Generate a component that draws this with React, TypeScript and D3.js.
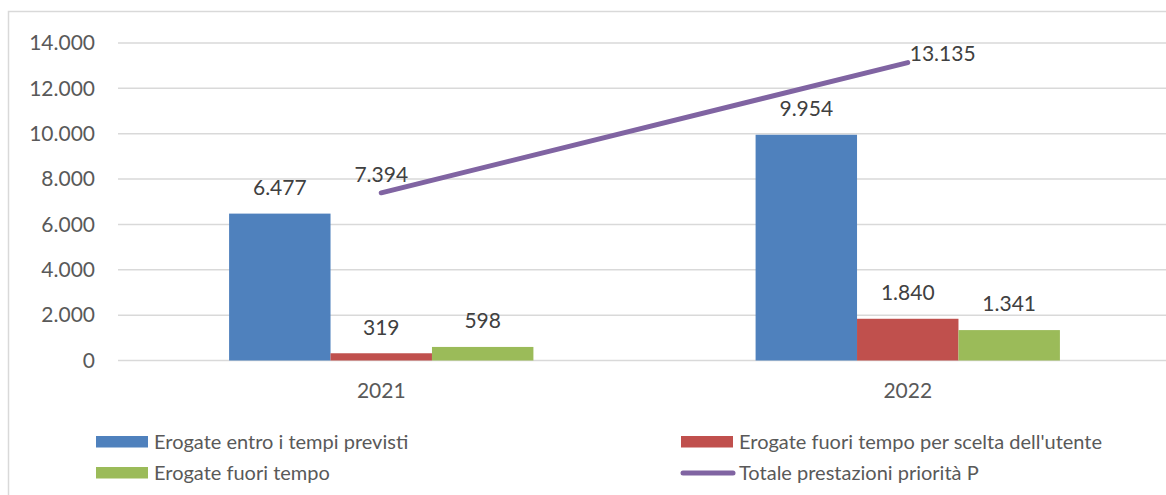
import React from "react";
import * as d3 from "d3";

const categories = ["2021", "2022"];
const seriesNames = [
  "Erogate entro i tempi previsti",
  "Erogate fuori tempo per scelta dell'utente",
  "Erogate fuori tempo",
];
const entroTempi = [6477, 9954];
const fuoriTempoScelta = [319, 1840];
const fuoriTempo = [598, 1341];
const lineName = "Totale prestazioni priorità P";
const totale = [7394, 13135];
const yTicks = [0, 2000, 4000, 6000, 8000, 10000, 12000, 14000];

const colors = ["#4F81BD", "#C0504D", "#9BBB59"];
const lineColor = "#8064A2";
const textColor = "#595959";
const gridColor = "#D9D9D9";
const FONT = "Lato, 'Open Sans', sans-serif";

const W = 1166;
const H = 495;
const plot = { left: 118, right: 1171, top: 43, bottom: 360.5 };

const locale = d3.formatLocale({ decimal: ",", thousands: ".", grouping: [3], currency: ["€", ""] });
const fmt = locale.format(",d");

export default function App() {
  const seriesValues = [entroTempi, fuoriTempoScelta, fuoriTempo];
  const x0 = d3.scaleBand<string>().domain(categories).range([plot.left, plot.right]).paddingInner(0).paddingOuter(0);
  const groupW = x0.bandwidth() * 0.578;
  const x1 = d3
    .scaleBand<number>()
    .domain(d3.range(seriesNames.length))
    .range([0, groupW])
    .padding(0);
  const y = d3.scaleLinear().domain([0, 14000]).range([plot.bottom, plot.top]);
  const cx = (c: string) => (x0(c) as number) + x0.bandwidth() / 2;

  const linePath = d3
    .line<number>()
    .x((_, i) => cx(categories[i]))
    .y((d) => y(d))(totale) as string;

  return (
    <div style={{ position: "fixed", left: 0, top: 0 }}>
      <svg width={W} height={H} style={{ display: "block", background: "#fff" }} fontFamily={FONT}>
        <rect x={8.5} y={11.5} width={W + 20} height={H + 20} fill="none" stroke={gridColor} strokeWidth={1.5} />
        {yTicks.map((t) => (
          <g key={t}>
            <line x1={plot.left} x2={plot.right} y1={y(t)} y2={y(t)} stroke={gridColor} strokeWidth={1.5} />
            <text x={95} y={y(t)} dy="0.35em" textAnchor="end" fontSize={21} fill={textColor}>
              {fmt(t)}
            </text>
          </g>
        ))}
        {seriesValues.map((vals, s) =>
          vals.map((v, i) => {
            const c = categories[i];
            const bx = cx(c) - groupW / 2 + (x1(s) as number);
            const bw = x1.bandwidth();
            return (
              <g key={`${s}-${i}`}>
                <rect x={bx} y={y(v)} width={bw} height={plot.bottom - y(v)} fill={colors[s]} />
                <text x={bx + bw / 2} y={y(v) - 26} dy="0.35em" textAnchor="middle" fontSize={21} fill="#404040">
                  {fmt(v)}
                </text>
              </g>
            );
          })
        )}
        <path d={linePath} fill="none" stroke={lineColor} strokeWidth={5} strokeLinecap="round" />
        {totale.map((v, i) => {
          const px = cx(categories[i]);
          const py = y(v);
          const last = i === totale.length - 1;
          return (
            <text
              key={i}
              x={last ? px + 2 : px}
              y={last ? py - 9 : py - 18}
              dy="0.35em"
              textAnchor={last ? "start" : "middle"}
              fontSize={21}
              fill="#404040"
            >
              {fmt(v)}
            </text>
          );
        })}
        {categories.map((c) => (
          <text key={c} x={cx(c)} y={391} dy="0.35em" textAnchor="middle" fontSize={21} fill={textColor}>
            {c}
          </text>
        ))}
        {/* legend */}
        {[
          { type: "bar", color: colors[0], label: seriesNames[0], x: 96, y: 442 },
          { type: "bar", color: colors[1], label: seriesNames[1], x: 681, y: 442 },
          { type: "bar", color: colors[2], label: seriesNames[2], x: 96, y: 473 },
          { type: "line", color: lineColor, label: lineName, x: 681, y: 473 },
        ].map((l, i) => (
          <g key={i}>
            {l.type === "bar" ? (
              <rect x={l.x} y={l.y - 6} width={52} height={11.5} fill={l.color} />
            ) : (
              <line x1={l.x + 2} x2={l.x + 52} y1={l.y} y2={l.y} stroke={l.color} strokeWidth={5} strokeLinecap="round" />
            )}
            <text x={l.x + 58} y={l.y} dy="0.35em" fontSize={20} fill={textColor}>
              {l.label}
            </text>
          </g>
        ))}
      </svg>
    </div>
  );
}
